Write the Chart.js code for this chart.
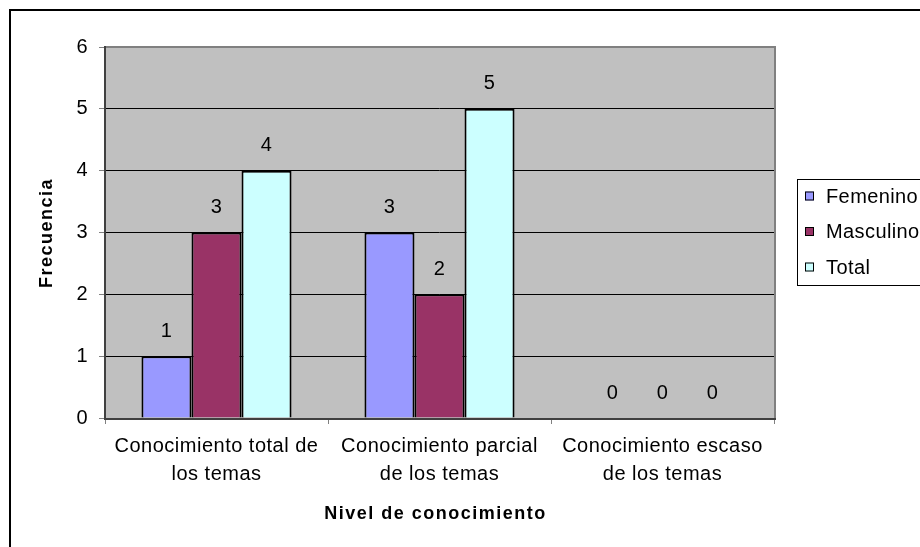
<!DOCTYPE html>
<html lang="es">
<head>
    <meta charset="UTF-8">
    <title>Nivel de conocimiento</title>
    <style>
        body {margin: 0;
              background: #fff;}
        canvas {display: block;}
    </style>
    <script src="https://cdn.jsdelivr.net/npm/chart.js"></script>
</head>
<body>
    <canvas id="grafico" width="920" height="547"></canvas>

    <script>
        const categorias = [
            ['Conocimiento total de', 'los temas'],
            ['Conocimiento parcial', 'de los temas'],
            ['Conocimiento escaso', 'de los temas']];
        const femenino = [1, 3, 0];
        const masculino = [3, 2, 0];
        const total = [4, 5, 0];
        const ticksY = [0, 1, 2, 3, 4, 5, 6];

        const fuente = "'Liberation Sans', Arial, sans-serif";

        const dibujoExtra = {
            id: 'dibujoExtra',
            beforeDraw(chart) {
                const ctx = chart.ctx;
                const a = chart.chartArea;
                // espaciado de letras parecido al de Excel
                ctx.letterSpacing = '0.5px';
                ctx.save();
                ctx.fillStyle = '#fff';
                ctx.fillRect(0, 0, chart.width, chart.height);
                // marco exterior
                ctx.strokeStyle = '#000';
                ctx.lineWidth = 2;
                ctx.strokeRect(10, 10, chart.width + 20, chart.height + 20);
                // fondo del area de trazado
                ctx.fillStyle = '#C0C0C0';
                ctx.fillRect(a.left, a.top, a.right - a.left, a.bottom - a.top);
                ctx.restore();
            },
            afterDatasetsDraw(chart) {
                const ctx = chart.ctx;
                const a = chart.chartArea;
                ctx.save();
                // borde del area de trazado
                ctx.strokeStyle = '#808080';
                ctx.lineWidth = 2;
                ctx.beginPath();
                ctx.moveTo(a.left, a.top);
                ctx.lineTo(a.right + 1, a.top);
                ctx.lineTo(a.right + 1, a.bottom);
                ctx.stroke();
                ctx.strokeStyle = '#404040';
                ctx.beginPath();
                ctx.moveTo(a.left, a.top - 1);
                ctx.lineTo(a.left, a.bottom + 1);
                ctx.lineTo(a.right + 2, a.bottom + 1);
                ctx.stroke();

                // etiquetas de valores
                ctx.fillStyle = '#000';
                ctx.font = '20px ' + fuente;
                ctx.textAlign = 'center';
                ctx.textBaseline = 'middle';
                chart.data.datasets.forEach((ds, i) => {
                    chart.getDatasetMeta(i).data.forEach((barra, j) => {
                        ctx.fillText(String(ds.data[j]), barra.x, barra.y - 25);
                    });
                });

                // leyenda
                ctx.strokeStyle = '#000';
                ctx.lineWidth = 1;
                ctx.strokeRect(797.5, 179.5, 150, 106);
                ctx.textAlign = 'left';
                ctx.letterSpacing = '0.4px';
                chart.data.datasets.forEach((ds, i) => {
                    const y = 196 + i * 35.5;
                    ctx.fillStyle = ds.backgroundColor;
                    ctx.fillRect(805, y - 4.5, 9, 9);
                    ctx.strokeRect(805.5, y - 4, 8, 8);
                    ctx.fillStyle = '#000';
                    ctx.fillText(ds.label, 826, y + 1);
                });

                // titulos de ejes
                ctx.font = 'bold 18px ' + fuente;
                ctx.letterSpacing = '1.5px';
                ctx.textAlign = 'center';
                ctx.fillText('Nivel de conocimiento', (a.left + a.right) / 2 - 4, 514);
                ctx.translate(47, 233);
                ctx.rotate(-Math.PI / 2);
                ctx.fillText('Frecuencia', 0, 0);
                ctx.restore();
            }
        };

        new Chart(document.getElementById('grafico'), {
            type: 'bar',
            data: {
                labels: categorias,
                datasets: [
                    {label: 'Femenino', data: femenino, backgroundColor: '#9999FF'},
                    {label: 'Masculino', data: masculino, backgroundColor: '#993366'},
                    {label: 'Total', data: total, backgroundColor: '#CCFFFF'}]},
            options: {
                responsive: false,
                animation: false,
                devicePixelRatio: 1,
                layout: {padding: {left: 0, top: 47, right: 146, bottom: 0}},
                datasets: {
                    bar: {
                        borderColor: '#000',
                        borderWidth: 2,
                        categoryPercentage: 0.673,
                        barPercentage: 1}},
                plugins: {
                    legend: {display: false},
                    tooltip: {enabled: false}},
                scales: {
                    x: {
                        offset: true,
                        border: {display: false},
                        grid: {drawOnChartArea: false, offset: true, tickLength: 6, tickColor: '#808080'},
                        ticks: {
                            color: '#000',
                            padding: 8,
                            maxRotation: 0,
                            font: {family: fuente, size: 20, lineHeight: 1.4}},
                        afterFit(escala) { escala.height = 129; }},
                    y: {
                        min: 0,
                        max: 6,
                        border: {display: false},
                        grid: {color: '#000', tickColor: '#808080', tickLength: 6},
                        afterBuildTicks(escala) {
                            escala.ticks = ticksY.map(v => ({value: v}));
                        },
                        ticks: {
                            color: '#000',
                            padding: 11,
                            font: {family: fuente, size: 20}},
                        afterFit(escala) { escala.width = 105; }}}},
            plugins: [dibujoExtra]
        });
    </script>
</body>
</html>
